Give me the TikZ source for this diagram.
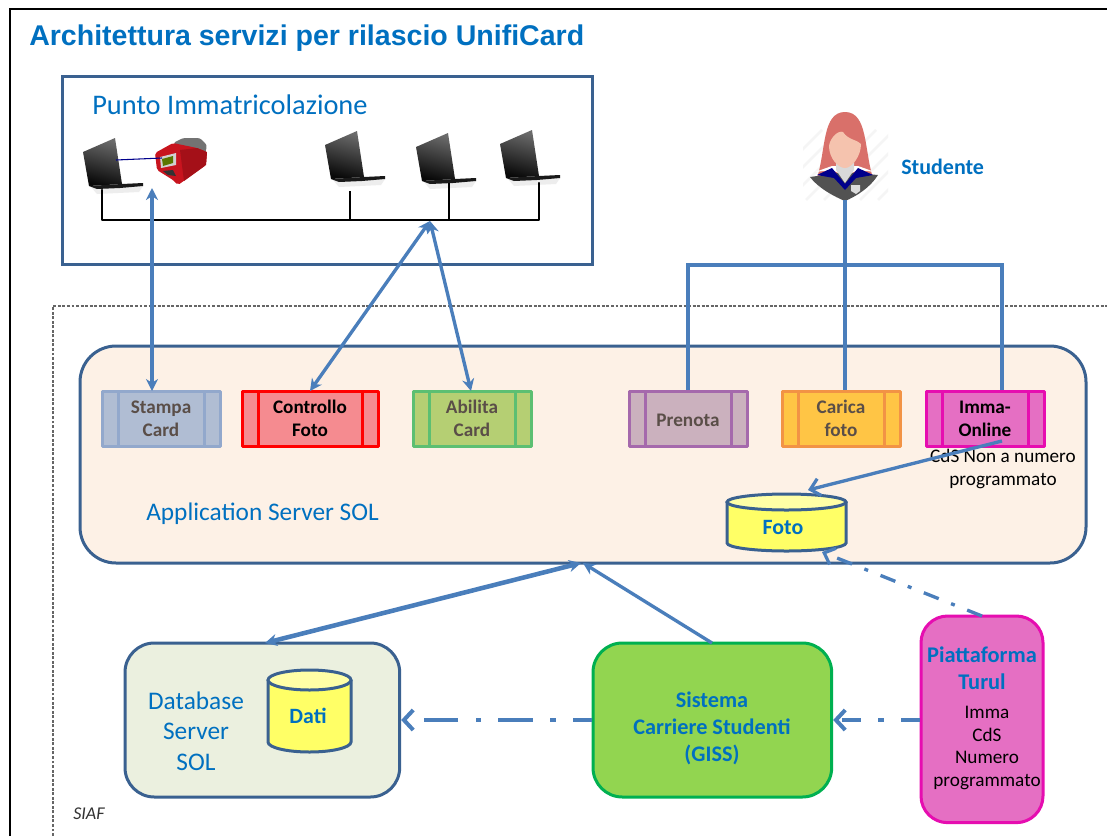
\documentclass[tikz,border=0pt]{standalone}
\usepackage{fontspec}
\setmainfont{Carlito}
\newfontfamily\arialf{Liberation Sans}
\usetikzlibrary{arrows.meta,calc}
\definecolor{blueln}{HTML}{4A7EBB}
\definecolor{navyln}{HTML}{3A6190}
\definecolor{txtblue}{HTML}{0070C0}
\definecolor{grayt}{HTML}{5A4E48}
\definecolor{appfill}{HTML}{FDF1E6}
\definecolor{dbfill}{HTML}{EBF0DF}
\definecolor{cylbody}{HTML}{FFFF66}
\definecolor{cyltop}{HTML}{FFFFA6}
\definecolor{stampaF}{HTML}{B0BDD3}\definecolor{stampaD}{HTML}{92A8CC}
\definecolor{contrF}{HTML}{F58B90}\definecolor{contrD}{HTML}{FF0000}
\definecolor{abilF}{HTML}{B5CF73}\definecolor{abilD}{HTML}{5CBF72}
\definecolor{prenF}{HTML}{CBB1BE}\definecolor{prenD}{HTML}{A569AC}
\definecolor{carF}{HTML}{FFC545}\definecolor{carD}{HTML}{F29345}
\definecolor{immaF}{HTML}{E56FC3}\definecolor{immaD}{HTML}{E60DB0}
\definecolor{gissF}{HTML}{92D550}\definecolor{gissD}{HTML}{00B050}
\definecolor{hair}{HTML}{D9706A}
\definecolor{skin}{HTML}{F5C3AE}
\definecolor{prnred}{HTML}{C8141E}
\tikzset{
  x=0.75pt,y=-0.75pt,
  conn/.style={draw=blueln,line width=2.5pt},
  solidhead/.style={-{Stealth[length=9pt,width=9pt]}},
  bothhead/.style={{Stealth[length=9pt,width=9pt]}-{Stealth[length=9pt,width=9pt]}},
  openhead/.style={-{Straight Barb[length=7pt,width=13pt,line width=2.4pt]}},
  lab/.style={text=txtblue,align=center,inner sep=0pt,font=\fontsize{21.3}{26}\selectfont},
  boldlab/.style={text=txtblue,align=center,inner sep=0pt,font=\fontsize{16.5}{20}\selectfont\bfseries},
  proc/.style={font=\fontsize{14.4}{17.2}\selectfont\bfseries,align=center,text=grayt,inner sep=0pt},
  blackt/.style={text=black,align=center,inner sep=0pt,font=\fontsize{14.4}{17}\selectfont},
  bus/.style={draw=black,line width=1.6pt},
  pics/laptop/.style={code={
    \fill[black!7] (8,49) -- (60,48) -- (56,54) -- (14,56) -- cycle;
    \shade[top color=black!58,bottom color=black!97,shading angle=-15] (0,14) -- (32,0) -- (39,46) -- (6,48) -- cycle;
    \fill[black!90] (6,48) -- (39,46) -- (60,45) -- (60,48) -- (37,50) -- (14,51) -- cycle;
  }},
}
\newcommand{\procbox}[7]{% name, x1, y1, x2, y2, fill, draw
  \fill[#6] (#2,#3) rectangle (#4,#5);
  \draw[#7,line width=2.25pt,line join=round] (#2,#3) rectangle (#4,#5);
  \draw[#7,line width=2.25pt] ({#2+16},#3) -- ({#2+16},#5) ({#4-16},#3) -- ({#4-16},#5);
  \coordinate (#1) at ({(#2+#4)/2},{(#3+#5)/2});
}
\newcommand{\cyl}[6]{% name, x1, y1, x2, y2, ry
  \filldraw[fill=cylbody,draw=navyln,line width=2.25pt] (#2,{#3+#6}) -- (#2,{#5-#6}) arc[start angle=180,end angle=360,x radius={(#4-#2)*0.375pt},y radius={#6*0.75pt}] -- (#4,{#3+#6});
  \filldraw[fill=cyltop,draw=navyln,line width=2.25pt] ({(#2+#4)/2},{#3+#6}) ellipse[x radius={(#4-#2)*0.375pt},y radius={#6*0.75pt}];
  \coordinate (#1) at ({(#2+#4)/2},{(#3+#5)/2+#6*0.6});
}
\begin{document}
\begin{tikzpicture}
\useasboundingbox (0,0) rectangle (1107,836);
\fill[white] (0,0) rectangle (1107,836);
% outer frame
\draw[black,line width=1.7pt] (10,836) -- (10,9) -- (1107,9);
\node[anchor=west,inner sep=0pt,text=txtblue,font=\arialf\fontsize{21.4}{25}\selectfont\bfseries] (title) at (29,38) {Architettura servizi per rilascio UnifiCard};
% SIAF
\draw[black!60,line width=0.8pt,dash pattern=on 2.2pt off 1.2pt] (53,836) -- (53,306) -- (1107,306);
\node[anchor=west,inner sep=0pt,text=black!80,font=\fontsize{13.5}{16}\selectfont\itshape] (siaf) at (73,814) {SIAF};
% Punto Immatricolazione
\node[draw=navyln,line width=2.25pt,minimum width=398pt,minimum height=141.5pt,inner sep=0pt,anchor=north west] (punto) at (60.5,74.5) {};
\node[lab,anchor=west] (puntot) at (92,105) {Punto Immatricolazione};
\pic at (83,138) {laptop};
\pic at (325,131) {laptop};
\pic at (416,133) {laptop};
\pic at (500,130) {laptop};
% printer
\fill[black!55,rounded corners=2pt] (173,143) -- (183,138) -- (200,138) -- (207,145) -- (205,155) -- (195,158) -- cycle;
\fill[prnred,rounded corners=1.5pt] (155,153) -- (173,143) -- (197,148) -- (207,152) -- (206,165) -- (178,185) -- (173,180) -- (157,170) -- cycle;
\fill[prnred!82!black] (180,150) -- (197,148) -- (207,152) -- (206,165) -- (184,181) -- cycle;
\fill[black!18] (160,157) -- (176,153) -- (176,165) -- (161,168) -- cycle;
\fill[black!45!green!35!yellow!55!black] (162,159) -- (173,156) -- (173,163) -- (163,166) -- cycle;
\fill[black!80] (163,171) -- (173,170) -- (176,176) -- (168,175) -- cycle;
\coordinate (lap1c) at (116,160);
\coordinate (prn) at (162,158);
\draw[black!45!blue,line width=0.8pt] (lap1c) -- (prn);
% bus
\coordinate (busL) at (102,220);
\coordinate (busR) at (539,220);
\coordinate (t1) at (102,190);
\coordinate (t2) at (350,191);
\coordinate (t3) at (449,183);
\coordinate (t4) at (539,183);
\draw[bus,line cap=round,line join=round] (t1) -- (busL) -- (busR) -- (t4);
\draw[bus] (t2) -- (350,220);
\draw[bus] (t3) -- (449,220);
% student
\begin{scope}
\clip (803,112) rectangle (888,200);
\foreach \k in {-60,-42,...,90}{\draw[black!4,line width=2pt] ({812+\k},200) -- ({812+\k+70},130);}
\end{scope}
\fill[hair] (817,178) .. controls (826,150) and (822,112) .. (845,112) .. controls (868,112) and (864,150) .. (873,178) -- cycle;
\fill[black!68] (810,177) -- (845,172) -- (878,175) .. controls (870,188) and (855,197) .. (845,201) .. controls (835,197) and (818,188) .. (810,177) -- cycle;
\fill[white] (815,172) -- (832,166) -- (858,166) -- (875,172) -- (858,170) -- (845,176) -- (832,170) -- cycle;
\fill[blue!55!black] (817,175) -- (832,168) -- (845,184) -- (858,168) -- (873,175) -- (856,178) -- (845,190) -- (834,178) -- cycle;
\fill[black!15] (836,162) -- (854,162) -- (854,170) -- (845,183) -- (836,170) -- cycle;
\fill[skin] (829,146) .. controls (830,138) and (838,130) .. (843,132) .. controls (848,140) and (858,140) .. (861,144) .. controls (861,156) and (852,168) .. (845,168) .. controls (838,168) and (829,158) .. (829,146) -- cycle;
\fill[black!14] (851,185) -- (860,185) -- (860,191) -- (856,194) -- (851,191) -- cycle;
\node[boldlab,anchor=west] (stud) at (901,167) {Studente};
\coordinate (studc) at (845,200);
% app server
\node[draw=navyln,fill=appfill,line width=2.25pt,rounded corners=27pt,minimum width=754.5pt,minimum height=162.75pt,inner sep=0pt,anchor=north west] (app) at (78.5,344.5) {};
\node[lab,anchor=west,font=\fontsize{19}{23}\selectfont] (appt) at (146,514) {Application Server SOL};
% process boxes
\procbox{stampa}{102}{391}{220}{446}{stampaF}{stampaD}
\procbox{contr}{242}{391}{378}{446}{contrF}{contrD}
\procbox{abil}{413}{391}{531}{446}{abilF}{abilD}
\procbox{pren}{629}{391}{747}{446}{prenF}{prenD}
\procbox{car}{782}{391}{900}{446}{carF}{carD}
\procbox{imma}{926}{391}{1044}{446}{immaF}{immaD}
\node[proc] (stampat) at (stampa) {Stampa\\Card};
\node[proc,text=black] (contrt) at (contr) {Controllo\\Foto};
\node[proc] (abilt) at (abil) {Abilita\\Card};
\node[proc] (prent) at ($(pren)+(0,1.5)$) {Prenota};
\node[proc] (cart) at (car) {Carica\\foto};
\node[proc,text=black] (immat) at (imma) {Imma-\\Online};
\node[blackt,anchor=north] (cds) at (1003,449) {CdS Non a numero\\ programmato};
% Foto
\cyl{foto}{727}{494}{846}{551}{8}
\node[boldlab,font=\fontsize{16.4}{18}\selectfont\bfseries] (fotot) at (783,527) {Foto};
% lower boxes
\node[draw=navyln,fill=dbfill,line width=2.25pt,rounded corners=22pt,minimum width=206pt,minimum height=115.5pt,inner sep=0pt,anchor=north west] (db) at (123.5,641.5) {};
\node[lab,font=\fontsize{19}{22.8}\selectfont] (dbt) at (196,731) {Database\\Server\\SOL};
\cyl{dati}{268}{670}{351}{752}{10}
\node[boldlab,font=\fontsize{16.4}{18}\selectfont\bfseries] (datit) at (308,716) {Dati};
\node[draw=gissD,fill=gissF,line width=2.25pt,rounded corners=22pt,minimum width=179pt,minimum height=115.5pt,inner sep=0pt,anchor=north west] (giss) at (591.5,641.5) {};
\node[boldlab,font=\fontsize{16.7}{20.2}\selectfont\bfseries] (gisst) at (712,728) {Sistema\\Carriere Studenti\\(GISS)};
\node[draw=immaD,fill=immaF,line width=2.25pt,rounded corners=20pt,minimum width=91.5pt,minimum height=155pt,inner sep=0pt,anchor=north west] (piat) at (919.5,614.5) {};
\node[boldlab,font=\fontsize{16.8}{20.2}\selectfont\bfseries] (piatt) at (982,668) {Piattaforma\\Turul};
\node[blackt] (piatb) at (987,748) {Imma\\CdS\\Numero\\programmato};
% connectors
\coordinate (stampaUp) at (152,188);
\coordinate (stampaDn) at (152,391);
\coordinate (hub) at (430,221);
\coordinate (contrUp) at (310,391);
\coordinate (abilUp) at (471,391);
\draw[conn,bothhead] (stampaUp) -- (stampaDn);
\draw[conn,bothhead] (hub) -- (contrUp);
\draw[conn,bothhead] (hub) -- (abilUp);
\coordinate (premUp) at (688,390);
\coordinate (caUp) at (845,390);
\coordinate (imUp) at (1002,390);
\draw[conn] (premUp) |- (imUp |- 0,265) -- (imUp);
\draw[conn] (studc) -- (caUp);
\coordinate (imOut) at (1002,441);
\coordinate (fotoIn) at (808,490);
\draw[conn,openhead] (imOut) -- (fotoIn);
\coordinate (appA) at (581,563);
\coordinate (dbA) at (265,643);
\draw[conn,line width=3.4pt,bothhead] (appA) -- (dbA);
\coordinate (gissTop) at (712,643);
\coordinate (appB) at (583,563);
\draw[conn,solidhead] (gissTop) -- (appB);
\coordinate (piatTop) at (982,616);
\coordinate (fotoB) at (822,552);
\draw[conn,openhead,dash pattern=on 12pt off 10pt on 3pt off 10pt] (piatTop) -- (fotoB);
\draw[conn,line width=3.2pt,dash pattern=on 26pt off 13pt on 4pt off 13pt,dash phase=12pt,-{Straight Barb[length=7pt,width=15pt,line width=3pt]}] (giss.west) -- (db.east);
\draw[conn,line width=3.2pt,dash pattern=on 14pt off 13pt on 4pt off 13pt,-{Straight Barb[length=7pt,width=15pt,line width=3pt]}] (piat.west |- giss.east) -- (giss.east);
\end{tikzpicture}
\end{document}
